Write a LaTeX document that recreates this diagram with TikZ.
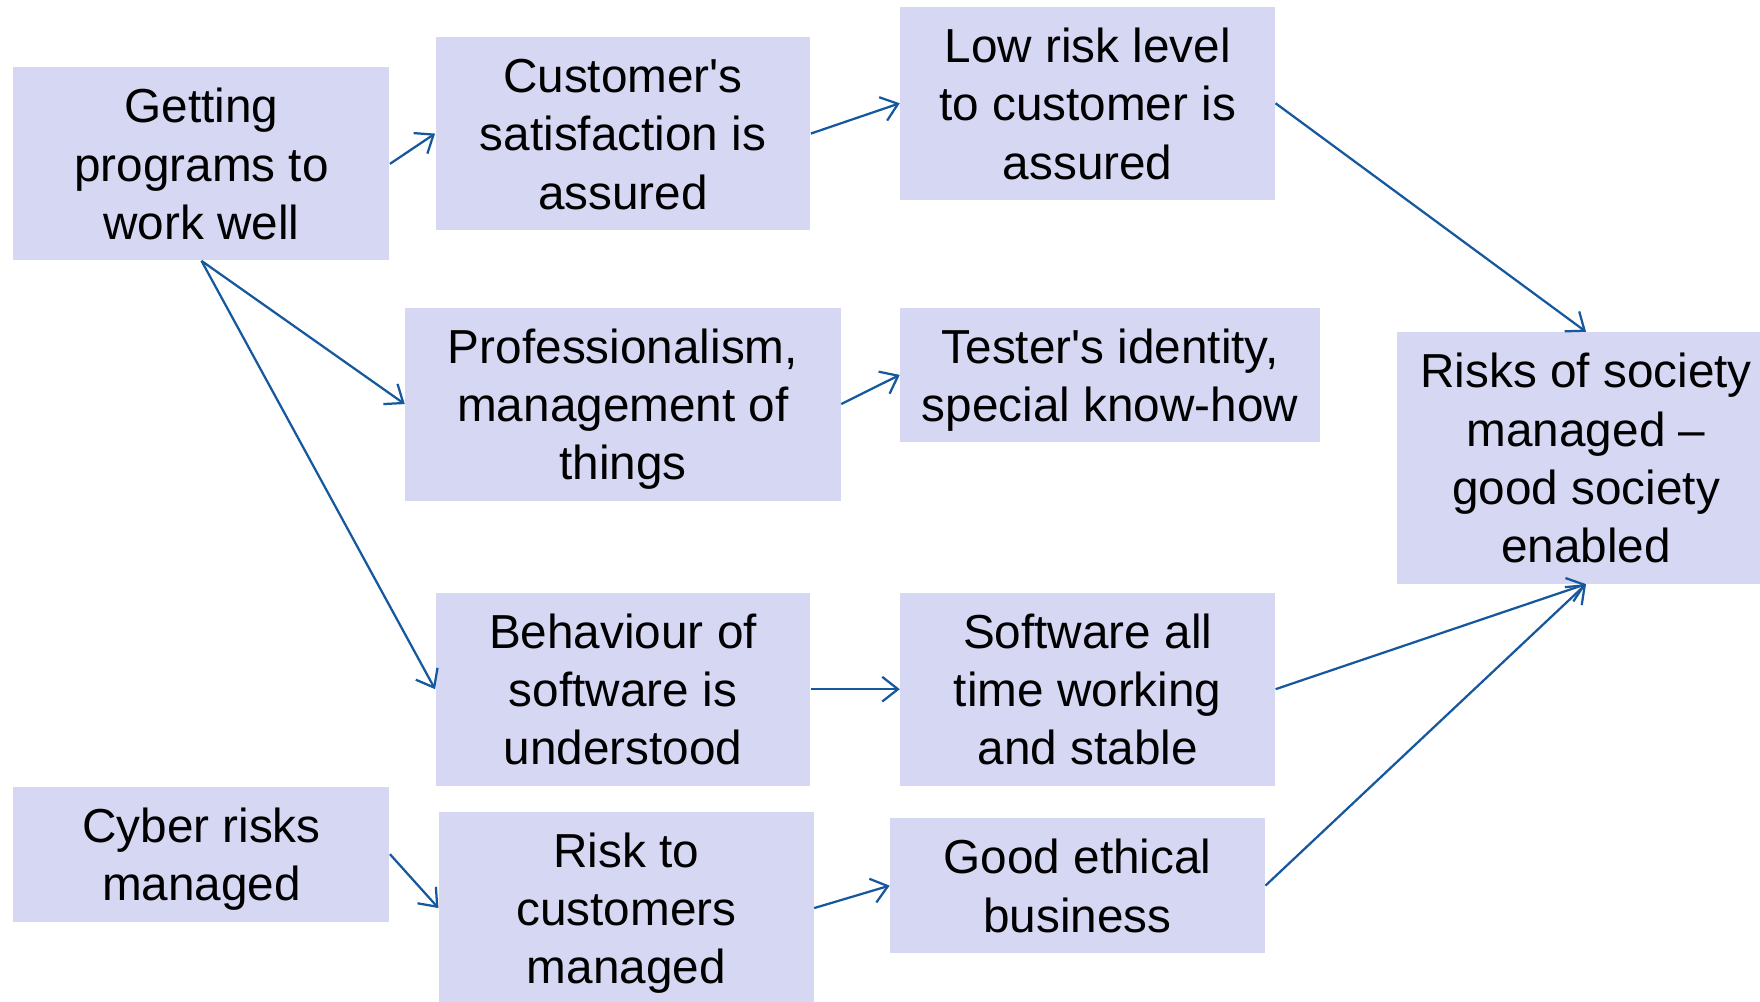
\documentclass[tikz,border=0pt]{standalone}
\usepackage{fontspec}
\setmainfont{Liberation Sans}
\usetikzlibrary{arrows.meta}
\definecolor{boxfill}{RGB}{214,215,242}
\definecolor{arrowblue}{RGB}{22,88,158}
\newcommand\fstl{\rule{0pt}{21.5pt}}
\newcommand\lstl{\rule[-6pt]{0pt}{6pt}}
\newcommand\apo{\textquotesingle}
\tikzset{
  box/.style={fill=boxfill, draw=none, inner sep=0pt, align=center,
    font=\fontsize{21.25pt}{26pt}\selectfont, text=black},
  arr/.style={draw=arrowblue, line width=1pt,
    -{Straight Barb[length=7pt, width=11pt, line width=1pt]}}
}
\begin{document}
\begin{tikzpicture}[x=0.5pt, y=-0.5pt]
\clip (0,0) rectangle (1568,892);
\fill[white] (0,0) rectangle (1568,892);
\node[box, minimum width=335pt*0.5, minimum height=172pt*0.5] (get) at (179.5,146) {\fstl Getting\\programs to\\work well\lstl};
\node[box, minimum width=334pt*0.5, minimum height=172pt*0.5] (cust) at (555,119) {\fstl Customer\apo s\\satisfaction is\\assured\lstl};
\node[box, minimum width=334pt*0.5, minimum height=172pt*0.5] (low) at (969,92) {\fstl Low risk level\\to customer is\\assured\lstl};
\node[box, minimum width=388pt*0.5, minimum height=172pt*0.5] (prof) at (555,360) {\fstl Professionalism,\\management of\\things\lstl};
\node[box, minimum width=374pt*0.5, minimum height=120pt*0.5] (test) at (989,334) {\fstl Tester\apo s identity,\\special know-how\lstl};
\node[box, minimum width=336pt*0.5, minimum height=224pt*0.5] (soc) at (1413,408) {\fstl Risks of society\\managed --\\good society\\enabled\lstl};
\node[box, minimum width=334pt*0.5, minimum height=172pt*0.5] (beh) at (555,614) {\fstl Behaviour of\\software is\\understood\lstl};
\node[box, minimum width=334pt*0.5, minimum height=172pt*0.5] (soft) at (969,614) {\fstl Software all\\time working\\and stable\lstl};
\node[box, minimum width=335pt*0.5, minimum height=120pt*0.5] (cyber) at (179.5,761) {\fstl Cyber risks\\managed\lstl};
\node[box, minimum width=334pt*0.5, minimum height=172pt*0.5] (risk) at (558,809) {\fstl Risk to\\customers\\managed\lstl};
\node[box, minimum width=334pt*0.5, minimum height=120pt*0.5] (good) at (960,789) {\fstl Good ethical\\business\lstl};
\draw[arr] (get.east) -- (cust.west);
\draw[arr] (cust.east) -- (low.west);
\draw[arr] (low.east) -- (soc.north);
\draw[arr] (get.south) -- (prof.west);
\draw[arr] (get.south) -- (beh.west);
\draw[arr] (prof.east) -- (test.west);
\draw[arr] (beh.east) -- (soft.west);
\draw[arr] (soft.east) -- (soc.south);
\draw[arr] (cyber.east) -- (risk.west);
\draw[arr] (risk.east) -- (good.west);
\draw[arr] (good.east) -- (soc.south);
\end{tikzpicture}
\end{document}
